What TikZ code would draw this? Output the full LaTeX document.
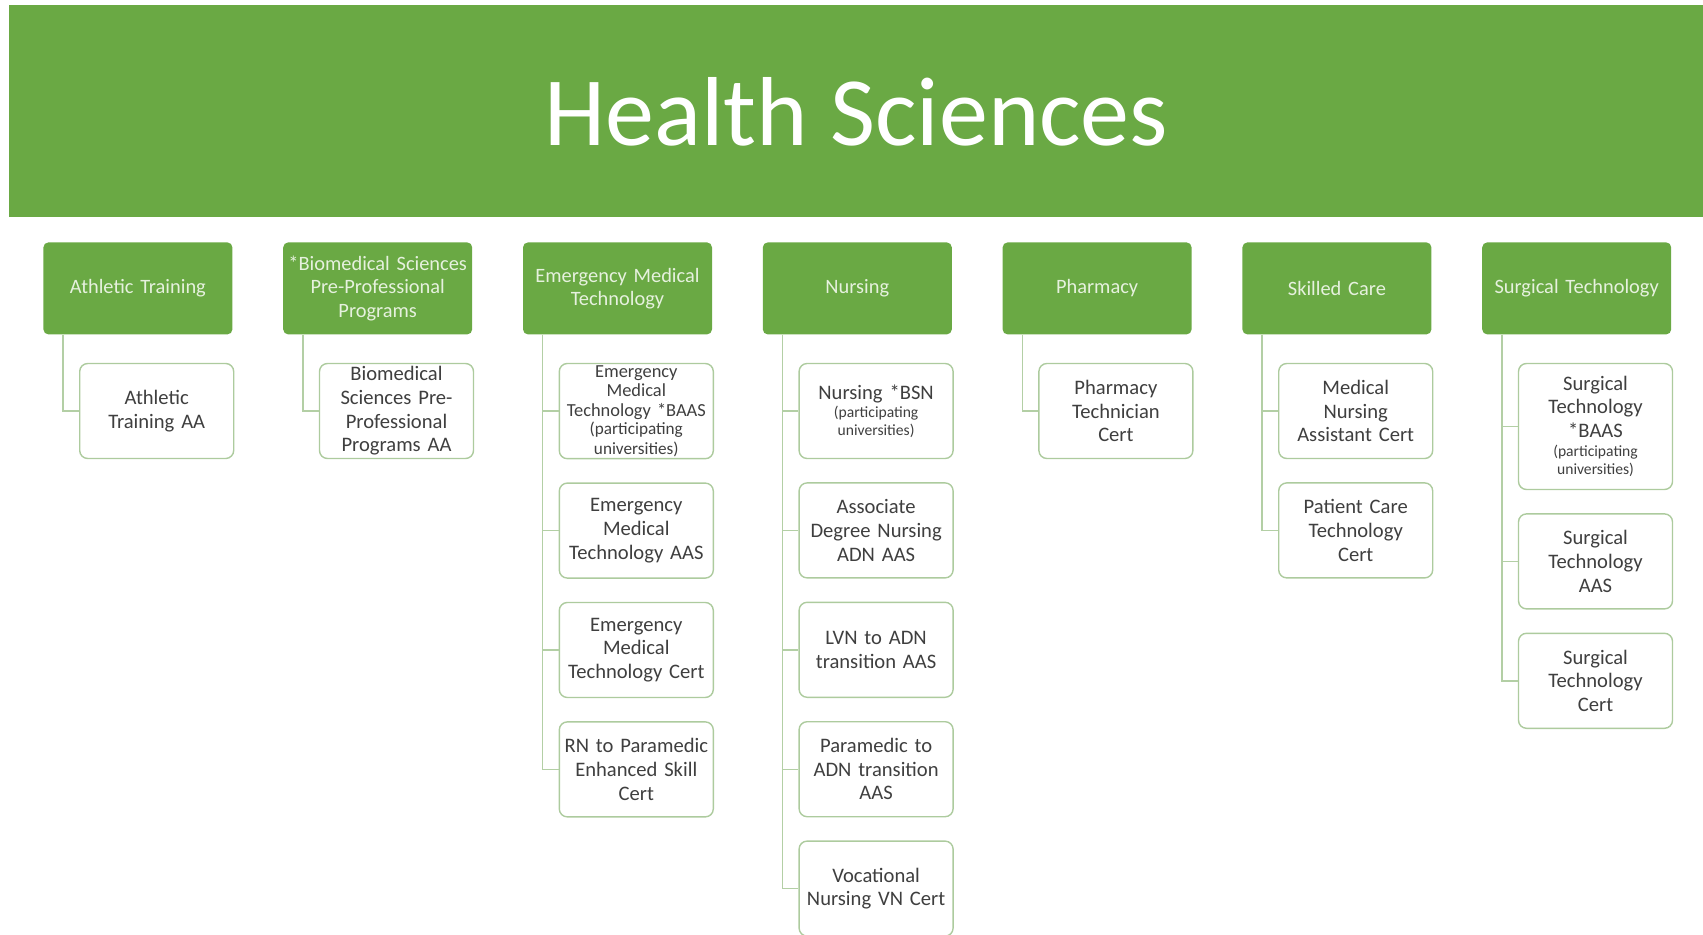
\documentclass[tikz,border=0pt]{standalone}
\usepackage{fontspec}
\setmainfont{Carlito}
\usepackage{xcolor}
\usetikzlibrary{positioning}

\definecolor{hsgreen}{HTML}{6AA944}
\definecolor{hshead}{HTML}{E6F1DE}
\definecolor{hsedge}{HTML}{ADCB9E}
\definecolor{hsline}{HTML}{B3CFA5}
\definecolor{hstext}{HTML}{3F3F3F}
\newcommand{\subnote}{\fontsize{7.8}{8.6}\selectfont}

\begin{document}
\begin{tikzpicture}[x=0.5pt, y=-0.5pt,
  banner/.style={fill=hsgreen, anchor=north west, minimum width=847pt,
                 minimum height=106pt, inner sep=0pt, text=white,
                 font=\fontsize{49}{55}\selectfont},
  hdr/.style={fill=hsgreen, rounded corners=2.5pt, minimum width=94.5pt,
              minimum height=46pt, text width=92pt, inner sep=1pt,
              align=center, text=hshead, font=\fontsize{10.2}{11.7}\selectfont},
  item/.style={draw=hsedge, line width=0.7pt, fill=white, rounded corners=4pt,
               minimum width=77pt, minimum height=47.5pt, text width=75pt,
               inner sep=1pt, align=center, text=hstext,
               font=\fontsize{10.3}{11.8}\selectfont},
  first/.style={below=14pt of #1.south west, anchor=north west, xshift=18pt},
  link/.style={draw=hsline, line width=0.7pt},
  node distance=11.5pt and 25pt
]
  \useasboundingbox (0,0) rectangle (1703,935);

  % Title banner
  \node[banner] (title) at (9,5) {Health Sciences};

  % Program areas
  \node[hdr, anchor=north west] (ath) at (43,242) {Athletic Training};
  \node[hdr, right=of ath] (bio) {*Biomedical Sciences\\Pre-Professional\\Programs};
  \node[hdr, right=of bio] (emt) {Emergency Medical\\Technology};
  \node[hdr, right=of emt] (nur) {Nursing};
  \node[hdr, right=of nur] (pha) {Pharmacy};
  \node[hdr, right=of pha] (skc) {Skilled Care};
  \node[hdr, right=of skc] (sur) {Surgical Technology};

  % Athletic Training
  \node[item, first=ath] (ath1) {Athletic\\Training AA};

  % Biomedical Sciences
  \node[item, first=bio] (bio1) {Biomedical\\Sciences Pre-\\Professional\\Programs AA};

  % Emergency Medical Technology
  \node[item, first=emt, font=\fontsize{9.2}{9.7}\selectfont] (emt1)
    {Emergency\\Medical\\Technology *BAAS\\{\fontsize{8.6}{9.4}\selectfont(participating\\universities)}};
  \node[item, below=of emt1] (emt2) {Emergency\\Medical\\Technology AAS};
  \node[item, below=of emt2] (emt3) {Emergency\\Medical\\Technology Cert};
  \node[item, below=of emt3] (emt4) {RN to Paramedic\\Enhanced Skill\\Cert};

  % Nursing
  \node[item, first=nur] (nur1) {Nursing *BSN\\[0.5pt]\subnote(participating\\[-2.8pt]universities)};
  \node[item, below=of nur1] (nur2) {Associate\\Degree Nursing\\ADN AAS};
  \node[item, below=of nur2] (nur3) {LVN to ADN\\transition AAS};
  \node[item, below=of nur3] (nur4) {Paramedic to\\ADN transition\\AAS};
  \node[item, below=of nur4] (nur5) {Vocational\\Nursing VN Cert};

  % Pharmacy
  \node[item, first=pha] (pha1) {Pharmacy\\Technician\\Cert};

  % Skilled Care
  \node[item, first=skc] (skc1) {Medical\\Nursing\\Assistant Cert};
  \node[item, below=of skc1] (skc2) {Patient Care\\Technology\\Cert};

  % Surgical Technology
  \node[item, first=sur, minimum height=63pt] (sur1)
    {Surgical\\Technology\\{*}BAAS\\[1pt]\subnote(participating\\[-2.8pt]universities)};
  \node[item, below=of sur1] (sur2) {Surgical\\Technology\\AAS};
  \node[item, below=of sur2] (sur3) {Surgical\\Technology\\Cert};

  % Connectors
  \draw[link] ([xshift=10pt]ath.south west) |- (ath1.west);
  \draw[link] ([xshift=10pt]bio.south west) |- (bio1.west);
  \foreach \c in {emt1,emt2,emt3,emt4}
    \draw[link] ([xshift=10pt]emt.south west) |- (\c.west);
  \foreach \c in {nur1,nur2,nur3,nur4,nur5}
    \draw[link] ([xshift=10pt]nur.south west) |- (\c.west);
  \draw[link] ([xshift=10pt]pha.south west) |- (pha1.west);
  \foreach \c in {skc1,skc2}
    \draw[link] ([xshift=10pt]skc.south west) |- (\c.west);
  \foreach \c in {sur1,sur2,sur3}
    \draw[link] ([xshift=10pt]sur.south west) |- (\c.west);
\end{tikzpicture}
\end{document}
